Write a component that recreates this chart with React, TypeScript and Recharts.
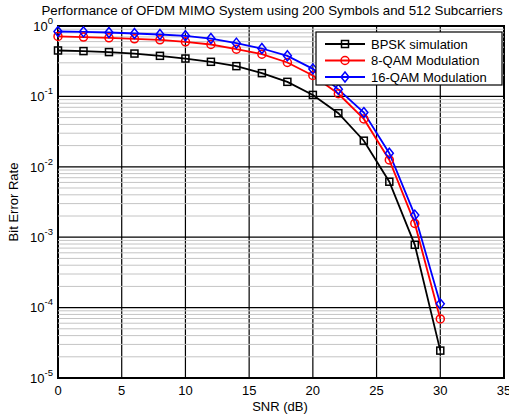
import React from 'react'
import { LineChart, Line, XAxis, YAxis, CartesianGrid, ReferenceLine, ReferenceArea } from 'recharts'

const snr = [0, 2, 4, 6, 8, 10, 12, 14, 16, 18, 20, 22, 24, 26, 28, 30]
const bpsk = [0.449, 0.44, 0.426, 0.406, 0.377, 0.345, 0.31, 0.269, 0.214, 0.161, 0.105, 0.0577, 0.0235, 0.00614, 0.00078, 0.0000245]
const qam8 = [0.71, 0.695, 0.68, 0.658, 0.637, 0.596, 0.546, 0.469, 0.398, 0.303, 0.198, 0.109, 0.0479, 0.0125, 0.00157, 0.000069]
const qam16 = [0.835, 0.826, 0.809, 0.782, 0.757, 0.726, 0.664, 0.571, 0.479, 0.377, 0.246, 0.126, 0.0589, 0.0156, 0.00206, 0.000113]

const xTicks = [0, 5, 10, 15, 20, 25, 30, 35]
const yTicks = [1e-5, 1e-4, 1e-3, 1e-2, 1e-1, 1]
const yExponents = [-5, -4, -3, -2, -1, 0]
const minorSteps = [2, 3, 4, 5, 6, 7, 8, 9]

const data = snr.map((s, i) => ({ snr: s, bpsk: bpsk[i], qam8: qam8[i], qam16: qam16[i] }))

// minor log grid: 2..9 x each decade
const minorLines = yTicks.slice(0, -1).flatMap((d) => minorSteps.map((m) => m * d))

const FONT = "'Liberation Sans', Arial, sans-serif"
const W = 509
const H = 417
const LEFT = 58
const RIGHT = 504
const TOP = 26
const BOTTOM = 378

const Square = ({ cx, cy, color }: any) => (
  <rect x={cx - 3.5} y={cy - 3.5} width={7} height={7} fill="none" stroke={color} strokeWidth={1.5} />
)
const Circle = ({ cx, cy, color }: any) => <circle cx={cx} cy={cy} r={4} fill="none" stroke={color} strokeWidth={1.5} />
const Diamond = ({ cx, cy, color }: any) => (
  <polygon points={`${cx},${cy - 5} ${cx + 4},${cy} ${cx},${cy + 5} ${cx - 4},${cy}`} fill="none" stroke={color} strokeWidth={1.5} />
)

const series = [
  { key: 'bpsk', name: 'BPSK simulation', color: '#000000', Marker: Square },
  { key: 'qam8', name: '8-QAM Modulation', color: '#ff0000', Marker: Circle },
  { key: 'qam16', name: '16-QAM Modulation', color: '#0000ff', Marker: Diamond },
]

const YTick = ({ y, payload }: any) => {
  const idx = yTicks.findIndex((t) => Math.abs(Math.log10(t) - Math.log10(payload.value)) < 1e-6)
  return (
    <text x={LEFT - 5} y={y + 4.7} textAnchor="end" fontFamily={FONT} fontSize={13} fill="#000">
      <tspan>10</tspan>
      <tspan dy={-7} fontSize={9.5}>{yExponents[idx]}</tspan>
    </text>
  )
}

const XTick = ({ x, payload }: any) => (
  <text x={x} y={BOTTOM + 17} textAnchor="middle" fontFamily={FONT} fontSize={13} fill="#000">
    {payload.value}
  </text>
)

export default function App() {
  return (
    <div style={{ position: 'fixed', left: 0, top: 0, width: W, height: H, background: '#fff' }}>
      <LineChart width={W} height={H} data={data} margin={{ top: TOP, right: W - RIGHT, bottom: 0, left: 0 }}>
        <XAxis
          dataKey="snr"
          type="number"
          domain={[0, 35]}
          ticks={xTicks}
          height={H - BOTTOM}
          axisLine={false}
          tickLine={false}
          tick={<XTick />}
          interval={0}
        />
        <YAxis
          scale="log"
          domain={[1e-5, 1]}
          ticks={yTicks}
          width={LEFT}
          axisLine={false}
          tickLine={false}
          tick={<YTick />}
          interval={0}
          allowDataOverflow
        />
        {minorLines.map((v) => (
          <ReferenceLine key={v} y={v} stroke="#c4c4c4" strokeWidth={1} />
        ))}
        <CartesianGrid stroke="#000" strokeWidth={1.2} />
        <ReferenceArea x1={0} x2={35} y1={1e-5} y2={1} fill="none" stroke="#000" strokeWidth={2} />
        {series.map(({ key, name, color, Marker }) => (
          <Line
            key={key}
            dataKey={key}
            name={name}
            stroke={color}
            strokeWidth={1.8}
            isAnimationActive={false}
            dot={(p: any) => <Marker key={`${key}-${p.index}`} cx={p.cx} cy={p.cy} color={color} />}
            activeDot={false}
          />
        ))}
      </LineChart>

      <svg width={W} height={H} style={{ position: 'absolute', left: 0, top: 0, pointerEvents: 'none' }}>
        <text x={272} y={15} textAnchor="middle" fontFamily={FONT} fontSize={13.3} fill="#000">
          Performance of OFDM MIMO System using 200 Symbols and 512 Subcarriers
        </text>
        <text x={280} y={411} textAnchor="middle" fontFamily={FONT} fontSize={13} fill="#000">
          SNR (dB)
        </text>
        <text x={18} y={202} textAnchor="middle" fontFamily={FONT} fontSize={13} fill="#000" transform="rotate(-90 18 202)">
          Bit Error Rate
        </text>

        {/* legend */}
        <rect x={316} y={32} width={186} height={53} fill="#fff" stroke="#000" strokeWidth={1.2} />
        {series.map(({ key, name, color, Marker }, i) => {
          const y = 44 + i * 16.5
          return (
            <g key={key}>
              <line x1={325} x2={365} y1={y} y2={y} stroke={color} strokeWidth={1.8} />
              <Marker cx={345} cy={y} color={color} />
              <text x={371} y={y + 4.7} fontFamily={FONT} fontSize={13} fill="#000">
                {name}
              </text>
            </g>
          )
        })}
      </svg>
    </div>
  )
}
